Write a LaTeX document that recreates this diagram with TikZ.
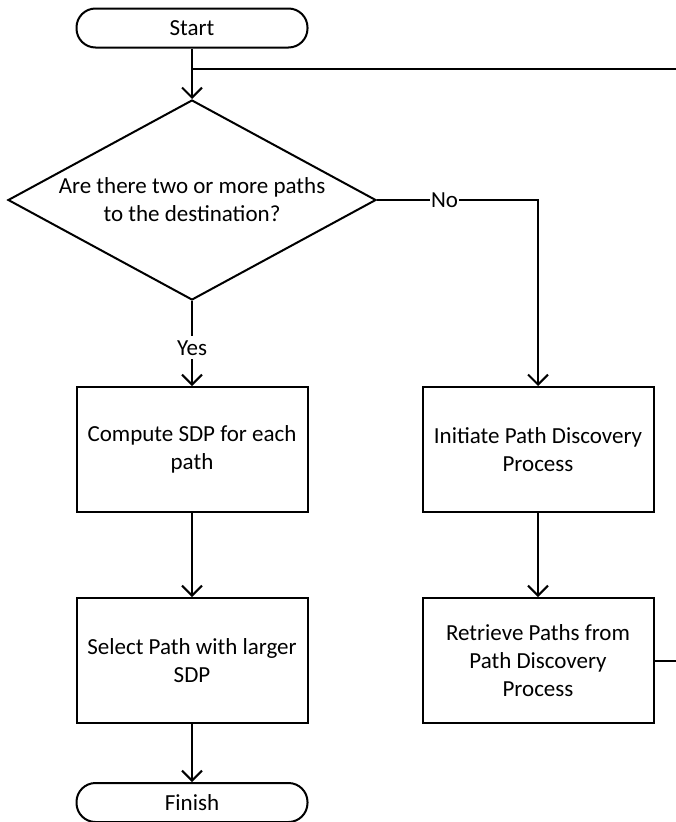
\documentclass[tikz,border=0pt]{standalone}
\usepackage{fontspec}
\setmainfont{Carlito}
\usetikzlibrary{arrows.meta,shapes.geometric}

\tikzset{
  term/.style={draw, line width=2pt, rounded corners=19pt, minimum width=231pt, minimum height=39pt, inner sep=0pt},
  proc/.style={draw, line width=2pt, minimum width=231pt, minimum height=125pt, align=center, inner sep=0pt},
  decision/.style={draw, diamond, line width=2pt, minimum width=368pt, minimum height=200pt, inner sep=0pt},
  flow/.style={line width=2pt, -{Straight Barb[length=10pt,width=20pt]}},
  link/.style={line width=2pt},
  tag/.style={fill=white, inner sep=4pt}
}

\begin{document}
\begin{tikzpicture}[x=1pt, y=-1pt, font=\fontsize{23}{28}\selectfont]
            \useasboundingbox (0,0) rectangle (676,822);

            % Start and decision
            \node[term] (start) at (192,28) {Start};
            \node[decision] (dec) at (192,200) {};
            \node[align=center] (quest) at (dec.center) {Are there two or more paths\\to the destination?};

            % Left column
            \node[proc] (comp) at (192,449.5) {Compute SDP for each\\path};
            \node[proc] (sel) at (192,660.5) {Select Path with larger\\SDP};
            \node[term] (finish) at (192,802.5) {Finish};

            % Right column
            \node[proc] (init) at (538,449.5) {Initiate Path Discovery\\Process};
            \node[proc] (retr) at (538,660.5) {Retrieve Paths from\\Path Discovery\\Process};

            % Loop ends (leave the picture)
            \coordinate (join) at (192,69);
            \coordinate (loopT) at (676,69);
            \coordinate (loopR) at (676,660.5);

            \draw[flow] (start) -- (dec);
            \draw[link] (join) -- (loopT);
            \draw[flow] (dec) -- node[tag, pos=0.55] {Yes} (comp);
            \draw[flow] (dec.east) -| node[tag, pos=0.21, inner sep=1pt] {No} (init);
            \draw[flow] (comp) -- (sel);
            \draw[flow] (sel) -- (finish);
            \draw[flow] (init) -- (retr);
            \draw[link] (retr.east) -- (loopR);
        \end{tikzpicture}
\end{document}
